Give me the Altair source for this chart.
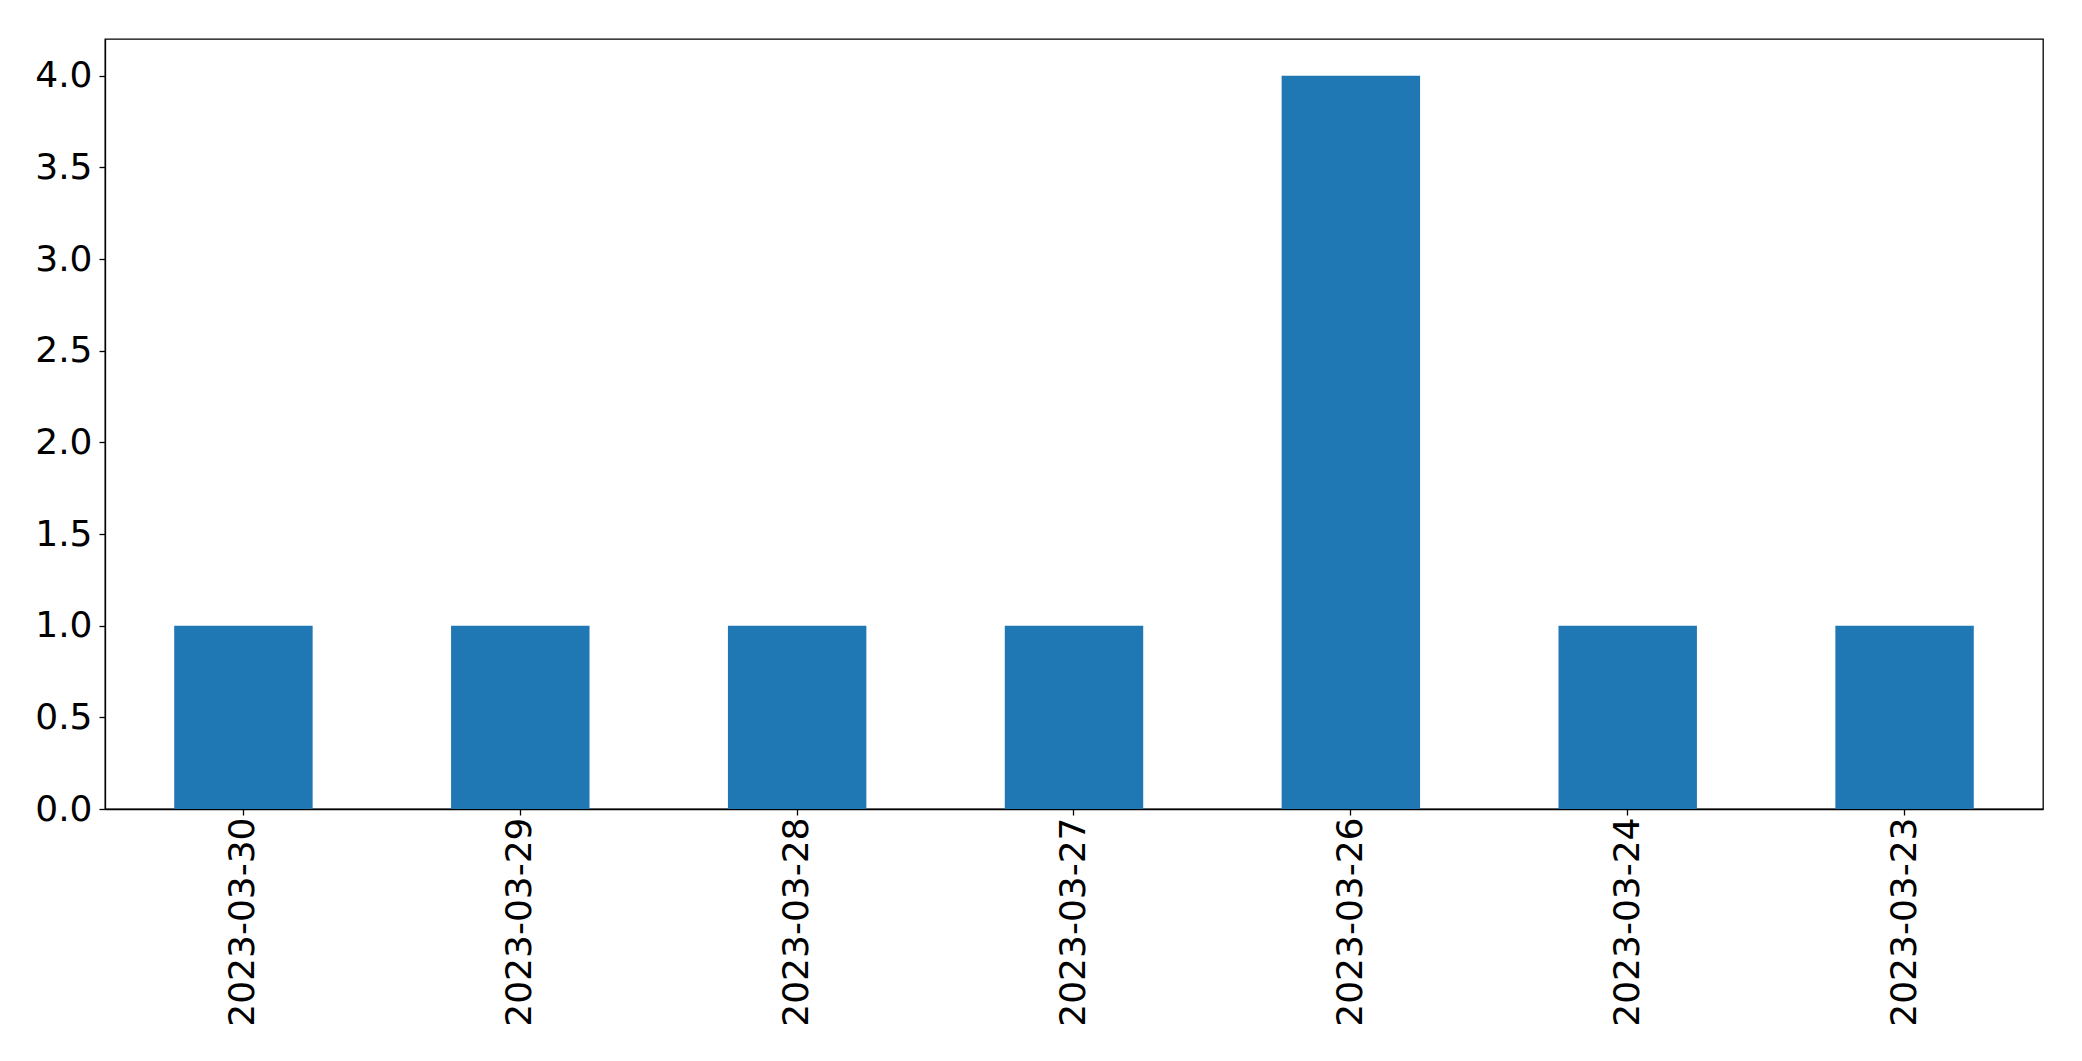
import altair as alt
import pandas as pd

dates = ["2023-03-30", "2023-03-29", "2023-03-28", "2023-03-27", "2023-03-26", "2023-03-24", "2023-03-23"]
counts = [1, 1, 1, 1, 4, 1, 1]

df = pd.DataFrame({"date": dates, "count": counts})

chart = alt.Chart(df).mark_bar(color="#1f77b4").encode(
    x=alt.X("date:N", sort=dates, title=None,
            scale=alt.Scale(paddingInner=0.5, paddingOuter=0.25),
            axis=alt.Axis(labelAngle=270, labelAlign="right", labelBaseline="middle",
                          labelFontSize=36, labelFont="DejaVu Sans", labelColor="black",
                          labelLimit=500,
                          tickColor="black", tickSize=6, labelPadding=2,
                          domainColor="black", grid=False)),
    y=alt.Y("count:Q", title=None,
            scale=alt.Scale(domain=[0, 4.2], nice=False),
            axis=alt.Axis(values=[0, 0.5, 1, 1.5, 2, 2.5, 3, 3.5, 4], format=".1f",
                          labelFontSize=36, labelFont="DejaVu Sans", labelColor="black",
                          tickColor="black", tickSize=6, labelPadding=7,
                          domainColor="black", grid=False)),
).properties(
    width=1938, height=770,
    autosize=alt.AutoSizeParams(type="none"),
    padding={"left": 97, "top": 31, "right": 25, "bottom": 240},
).configure_view(stroke="black", strokeWidth=1.3).configure_axis(domainWidth=1.3, tickWidth=1.3)

chart.save("out.html", embed_options={"renderer": "svg", "actions": False})
